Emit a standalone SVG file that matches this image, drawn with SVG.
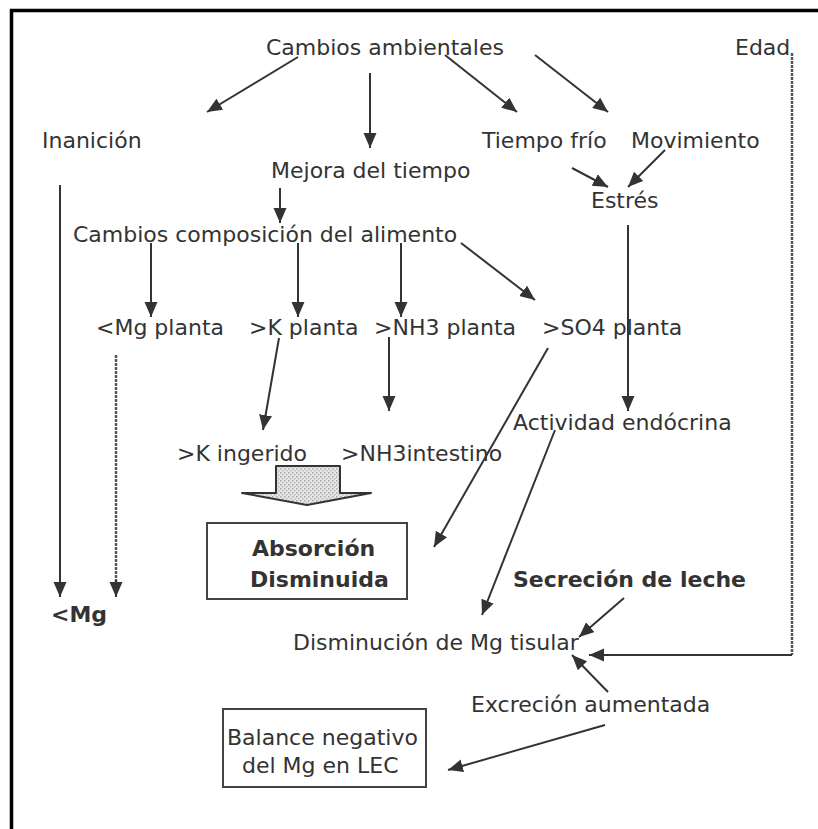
<svg xmlns="http://www.w3.org/2000/svg" width="818" height="829" viewBox="0 0 818 829">
<style>
text{font-family:"DejaVu Sans",Verdana,sans-serif;font-size:22px;fill:#333}
.b{font-weight:bold}
.c{stroke:#333;stroke-width:2;fill:none;marker-end:url(#ah)}
.d{stroke:#555;stroke-width:2.5;fill:none;stroke-dasharray:3 1}
.box{fill:#fff;stroke:#444;stroke-width:2}
</style>
<defs>
<marker id="ah" markerUnits="userSpaceOnUse" markerWidth="16" markerHeight="14" refX="15" refY="6.5" orient="auto">
<path d="M0,0 L15,6.5 L0,13 z" fill="#333"/>
</marker>
<pattern id="stip" width="4" height="4" patternUnits="userSpaceOnUse">
<rect width="4" height="4" fill="#e6e6e6"/>
<rect width="1.5" height="1.5" fill="#a8a8a8"/>
<rect x="2" y="2" width="1.5" height="1.5" fill="#b8b8b8"/>
</pattern>
</defs>
<rect width="818" height="829" fill="#fff"/>
<path d="M11.5,829 V10.5 H818" fill="none" stroke="#000" stroke-width="3.5"/>

<g id="n-cambios-amb"><text x="266" y="55">Cambios ambientales</text></g>
<g id="n-edad"><text x="735" y="55">Edad</text></g>
<g id="n-inanicion"><text x="42" y="148">Inanición</text></g>
<g id="n-tiempo-frio"><text x="482" y="148">Tiempo frío</text></g>
<g id="n-movimiento"><text x="631" y="148">Movimiento</text></g>
<g id="n-mejora"><text x="271" y="178">Mejora del tiempo</text></g>
<g id="n-estres"><text x="591" y="208">Estrés</text></g>
<g id="n-cambios-comp"><text x="73" y="242">Cambios composición del alimento</text></g>
<g id="n-mg-planta"><text x="96" y="335">&lt;Mg planta</text></g>
<g id="n-k-planta"><text x="249" y="335">&gt;K planta</text></g>
<g id="n-nh3-planta"><text x="374" y="335">&gt;NH3 planta</text></g>
<g id="n-so4-planta"><text x="542" y="335">&gt;SO4 planta</text></g>
<g id="n-actividad"><text x="513" y="430">Actividad endócrina</text></g>
<g id="n-k-ingerido"><text x="177" y="461">&gt;K ingerido</text></g>
<g id="n-nh3-intestino"><text x="341" y="461">&gt;NH3intestino</text></g>
<g id="n-block-arrow"><path d="M276,466 H340 V493 H371 L307,505 L242,493 H276 Z" fill="url(#stip)" stroke="#333" stroke-width="2" stroke-linejoin="round"/></g>
<g id="n-absorcion">
<rect class="box" x="207" y="523" width="200" height="76"/>
<text class="b" x="252" y="556">Absorción</text>
<text class="b" x="250" y="587">Disminuida</text>
</g>
<g id="n-mg"><text class="b" x="51" y="622">&lt;Mg</text></g>
<g id="n-secrecion"><text class="b" x="513" y="587">Secreción de leche</text></g>
<g id="n-disminucion"><text x="293" y="650">Disminución de Mg tisular</text></g>
<g id="n-excrecion"><text x="471" y="712">Excreción aumentada</text></g>
<g id="n-balance">
<rect class="box" x="223" y="709" width="203" height="78" stroke-width="1.8"/>
<text x="227" y="745">Balance negativo</text>
<text x="242" y="773">del Mg en LEC</text>
</g>

<g id="connectors">
<line class="c" x1="298" y1="57" x2="207" y2="112"/>
<line class="c" x1="370" y1="73" x2="370" y2="148"/>
<line class="c" x1="445" y1="55" x2="517" y2="112"/>
<line class="c" x1="535" y1="55" x2="608" y2="112"/>
<line class="c" x1="572" y1="168" x2="608" y2="187"/>
<line class="c" x1="665" y1="150" x2="628" y2="187"/>
<line class="c" x1="280" y1="188" x2="280" y2="223"/>
<line class="c" x1="151" y1="243" x2="151" y2="317"/>
<line class="c" x1="298" y1="243" x2="298" y2="317"/>
<line class="c" x1="401" y1="243" x2="401" y2="317"/>
<line class="c" x1="461" y1="243" x2="535" y2="300"/>
<line class="c" x1="628" y1="225" x2="628" y2="411"/>
<line class="c" x1="279" y1="338" x2="263" y2="430"/>
<line class="c" x1="389" y1="337" x2="389" y2="411"/>
<line class="c" x1="60" y1="185" x2="60" y2="597"/>
<line class="d" x1="116" y1="355" x2="116" y2="583"/>
<line class="c" x1="116" y1="580" x2="116" y2="597"/>
<line class="c" x1="548" y1="348" x2="434" y2="547"/>
<line class="c" x1="555" y1="430" x2="482" y2="615"/>
<line class="c" x1="624" y1="598" x2="579" y2="637"/>
<path class="d" d="M792,53 V655"/>
<path class="c" d="M792,655 H589"/>
<line class="c" x1="608" y1="692" x2="572" y2="655"/>
<line class="c" x1="605" y1="725" x2="448" y2="770"/>
</g>
</svg>
